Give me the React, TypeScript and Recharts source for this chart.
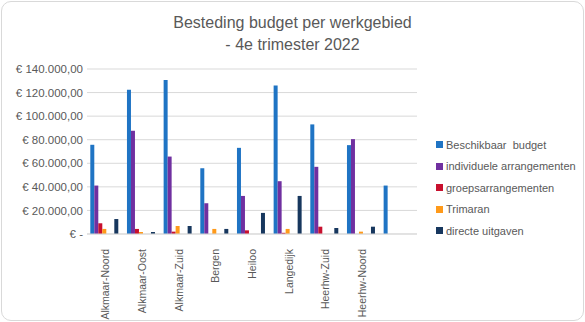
import { BarChart, Bar, XAxis, YAxis, CartesianGrid, Legend } from "recharts"

const categories = [
  "Alkmaar-Noord",
  "Alkmaar-Oost",
  "Alkmaar-Zuid",
  "Bergen",
  "Heiloo",
  "Langedijk",
  "Heerhw-Zuid",
  "Heerhw-Noord",
  "",
]

const beschikbaar = [75700, 122400, 130700, 55800, 73100, 126100, 93000, 75400, 41100]
const individueel = [41100, 87600, 65700, 26100, 32300, 44800, 57000, 80500, null]
const groeps = [9100, 4300, 2000, 0, 3100, 1000, 6200, 0, null]
const trimaran = [4300, 1700, 6800, 4300, 0, 4300, 0, 2000, null]
const directe = [12700, 1700, 6800, 4300, 17900, 32300, 5100, 6200, null]

const yTicks = [0, 20000, 40000, 60000, 80000, 100000, 120000, 140000]

// two empty series sit between Trimaran and directe uitgaven in the original sheet
const series = [
  { key: "beschikbaar", name: "Beschikbaar  budget", color: "#1f74c4" },
  { key: "individueel", name: "individuele arrangementen", color: "#7030a0" },
  { key: "groeps", name: "groepsarrangementen", color: "#c8102e" },
  { key: "trimaran", name: "Trimaran", color: "#ff9a1a" },
  { key: "leeg1", name: "", color: "transparent" },
  { key: "leeg2", name: "", color: "transparent" },
  { key: "directe", name: "directe uitgaven", color: "#17375e" },
]

const data = categories.map((c, i) => ({
  name: c,
  beschikbaar: beschikbaar[i],
  individueel: individueel[i],
  groeps: groeps[i],
  trimaran: trimaran[i],
  directe: directe[i],
}))

const FONT = "'Liberation Sans', Arial, sans-serif"
const GREY = "#595959"

function euro(v: number) {
  if (v === 0) return "€ -"
  const s = v.toFixed(0).replace(/\B(?=(\d{3})+(?!\d))/g, ".")
  return `€ ${s},00`
}

function CategoryTick({ x, y, payload }: any) {
  return (
    <text
      x={x + 4}
      y={y + 7}
      transform={`rotate(-90, ${x + 4}, ${y + 7})`}
      textAnchor="end"
      fontSize={10.5}
      fontFamily={FONT}
      fill={GREY}
    >
      {payload.value}
    </text>
  )
}

function LegendList() {
  return (
    <div style={{ fontFamily: FONT, fontSize: 11, color: GREY }}>
      {series
        .filter((s) => s.name)
        .map((s) => (
          <div
            key={s.key}
            style={{ display: "flex", alignItems: "center", height: 21.5, whiteSpace: "pre" }}
          >
            <span
              style={{
                width: 7,
                height: 7,
                background: s.color,
                marginRight: 3,
                display: "inline-block",
              }}
            />
            {s.name}
          </div>
        ))}
    </div>
  )
}

export default function App() {
  return (
    <div
      style={{
        position: "absolute",
        left: 0,
        top: 0,
        width: 585,
        height: 322,
        background: "#fff",
      }}
    >
      <div
        style={{
          position: "absolute",
          left: 1,
          top: 1,
          width: 581,
          height: 318,
          border: "1px solid #d9d9d9",
          borderRadius: 10,
        }}
      />
      <div
        style={{
          position: "absolute",
          left: 0,
          top: 12,
          width: 585,
          textAlign: "center",
          fontFamily: FONT,
          fontSize: 16,
          lineHeight: "22px",
          color: GREY,
        }}
      >
        Besteding budget per werkgebied
        <br />- 4e trimester 2022
      </div>
      <div style={{ position: "absolute", left: 0, top: 0 }}>
        <BarChart
          width={585}
          height={322}
          data={data}
          margin={{ top: 69, right: 168, bottom: 8, left: 0 }}
          barCategoryGap="9%"
          barGap={0}
        >
          <CartesianGrid vertical={false} stroke="#d9d9d9" />
          <XAxis
            dataKey="name"
            interval={0}
            height={80}
            tickLine={false}
            axisLine={{ stroke: "#d9d9d9" }}
            tick={<CategoryTick />}
          />
          <YAxis
            width={87}
            domain={[0, 140000]}
            ticks={yTicks}
            tickFormatter={euro}
            axisLine={false}
            tickLine={false}
            tickSize={0}
            tickMargin={4}
            tick={{ fontSize: 11.5, fontFamily: FONT, fill: GREY }}
          />
          <Legend
            layout="vertical"
            align="center"
            verticalAlign="middle"
            content={<LegendList />}
            wrapperStyle={{ left: 436, top: 134, width: 150 }}
          />
          {series.map((s) => (
            <Bar
              key={s.key}
              dataKey={s.key}
              name={s.name}
              fill={s.color}
              legendType={s.name ? "square" : "none"}
              isAnimationActive={false}
            />
          ))}
        </BarChart>
      </div>
    </div>
  )
}
